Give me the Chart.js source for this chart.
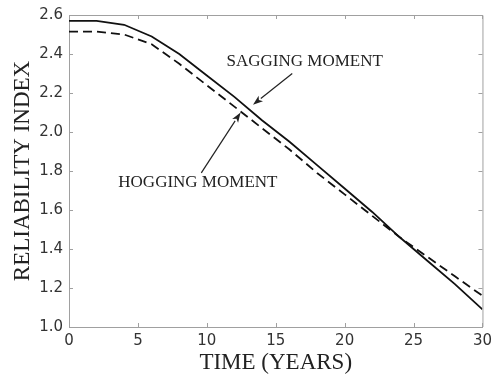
<!DOCTYPE html>
<html>
<head>
<meta charset="utf-8">
<script src="https://cdn.jsdelivr.net/npm/chart.js@4/dist/chart.umd.min.js"></script>
<style>
  html, body { margin: 0; padding: 0; background: #fff; }
  #wrap { width: 497px; height: 379px; }
</style>
</head>
<body>
<div id="wrap"><canvas id="myChart" width="497" height="379"></canvas></div>
<script>
// time axis (years) and the reliability index of both load cases
const years    = [0, 2, 4, 6, 8, 10, 12, 14, 16, 18, 20, 22, 24, 26, 28, 30];
const sagging  = [2.57, 2.57, 2.55, 2.49, 2.40, 2.29, 2.18, 2.06, 1.95, 1.83, 1.71, 1.59, 1.46, 1.34, 1.22, 1.09];
const hogging  = [2.515, 2.515, 2.50, 2.45, 2.35, 2.24, 2.13, 2.02, 1.91, 1.79, 1.68, 1.57, 1.46, 1.36, 1.26, 1.16];

const xTickValues = [0, 5, 10, 15, 20, 25, 30];
const yTickValues = [1.0, 1.2, 1.4, 1.6, 1.8, 2.0, 2.2, 2.4, 2.6];

// labels with arrows (data coordinates)
const notes = [
  { text: 'SAGGING MOMENT', at: [17.1, 2.363], from: [16.2, 2.30], to: [13.35, 2.14] },
  { text: 'HOGGING MOMENT', at: [9.35, 1.741], from: [9.6, 1.79], to: [12.45, 2.10] }
];

const frameColor = '#a0a0a0';

// box round the plot, inward ticks on every side, and the arrow labels
const framePlugin = {
  id: 'frame',
  afterDraw(chart) {
    const { ctx, chartArea: a, scales: { x, y } } = chart;
    ctx.save();
    ctx.strokeStyle = frameColor;
    ctx.lineWidth = 1;
    ctx.beginPath();
    ctx.moveTo(a.left, a.top + 0.5);
    ctx.lineTo(a.right + 0.5, a.top + 0.5);
    ctx.lineTo(a.right + 0.5, a.bottom);
    const tl = 4;
    xTickValues.forEach(v => {
      const px = Math.round(x.getPixelForValue(v)) + 0.5;
      ctx.moveTo(px, a.bottom); ctx.lineTo(px, a.bottom - tl);
      ctx.moveTo(px, a.top); ctx.lineTo(px, a.top + tl);
    });
    yTickValues.forEach(v => {
      const py = Math.round(y.getPixelForValue(v)) + 0.5;
      ctx.moveTo(a.left, py); ctx.lineTo(a.left + tl, py);
      ctx.moveTo(a.right, py); ctx.lineTo(a.right - tl, py);
    });
    ctx.stroke();

    ctx.fillStyle = '#222';
    ctx.strokeStyle = '#222';
    ctx.font = '17px "Liberation Serif", serif';
    ctx.textAlign = 'center';
    ctx.textBaseline = 'middle';
    notes.forEach(n => {
      ctx.fillText(n.text, x.getPixelForValue(n.at[0]), y.getPixelForValue(n.at[1]));
      const x0 = x.getPixelForValue(n.from[0]), y0 = y.getPixelForValue(n.from[1]);
      const x1 = x.getPixelForValue(n.to[0]),   y1 = y.getPixelForValue(n.to[1]);
      const ang = Math.atan2(y1 - y0, x1 - x0);
      const hl = 10, hw = 3.5;
      ctx.lineWidth = 1.2;
      ctx.beginPath();
      ctx.moveTo(x0, y0);
      ctx.lineTo(x1 - hl * Math.cos(ang), y1 - hl * Math.sin(ang));
      ctx.stroke();
      ctx.beginPath();
      ctx.moveTo(x1, y1);
      ctx.lineTo(x1 - hl * Math.cos(ang) + hw * Math.sin(ang), y1 - hl * Math.sin(ang) - hw * Math.cos(ang));
      ctx.lineTo(x1 - hl * 0.75 * Math.cos(ang), y1 - hl * 0.75 * Math.sin(ang));
      ctx.lineTo(x1 - hl * Math.cos(ang) - hw * Math.sin(ang), y1 - hl * Math.sin(ang) + hw * Math.cos(ang));
      ctx.closePath();
      ctx.fill();
    });
    ctx.restore();
  }
};

const tickFont = { family: '"DejaVu Sans", sans-serif', size: 15 };
const titleFont = { family: '"Liberation Serif", serif', size: 23 };

new Chart(document.getElementById('myChart').getContext('2d'), {
  type: 'line',
  data: {
    datasets: [
      {
        label: 'Sagging moment',
        data: years.map((t, i) => ({ x: t, y: sagging[i] })),
        borderColor: '#111',
        borderWidth: 1.8,
        pointRadius: 0,
        tension: 0
      },
      {
        label: 'Hogging moment',
        data: years.map((t, i) => ({ x: t, y: hogging[i] })),
        borderColor: '#111',
        borderWidth: 1.8,
        borderDash: [9, 5],
        pointRadius: 0,
        tension: 0
      }
    ]
  },
  options: {
    responsive: false,
    animation: false,
    layout: { padding: { top: 10, right: 14, left: 0, bottom: 0 } },
    plugins: { legend: { display: false }, tooltip: { enabled: false } },
    scales: {
      x: {
        type: 'linear',
        min: 0, max: 30,
        afterBuildTicks: s => { s.ticks = xTickValues.map(v => ({ value: v })); },
        afterFit: s => { s.height = 52; },
        grid: { display: false, drawTicks: false },
        border: { color: frameColor, width: 1 },
        ticks: { font: tickFont, color: '#333', padding: 5, maxRotation: 0,
                 callback: v => String(v) },
        title: { display: true, text: 'TIME (YEARS)', font: titleFont, color: '#222',
                 padding: { top: 0, bottom: 2 } }
      },
      y: {
        min: 1.0, max: 2.6,
        afterBuildTicks: s => { s.ticks = yTickValues.map(v => ({ value: v })); },
        afterFit: s => { s.width = 69; },
        grid: { display: false, drawTicks: false },
        border: { color: frameColor, width: 1 },
        ticks: { font: tickFont, color: '#333', padding: 6,
                 callback: v => Number(v).toFixed(1) },
        title: { display: true, text: 'RELIABILITY INDEX', font: titleFont, color: '#222',
                 padding: { top: 9, bottom: 0 } }
      }
    }
  },
  plugins: [framePlugin]
});
</script>
</body>
</html>
